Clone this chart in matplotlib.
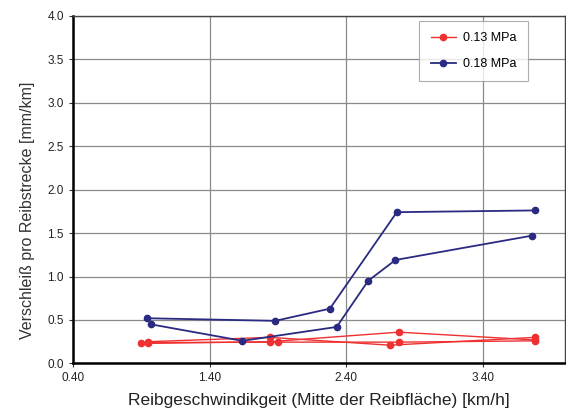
import matplotlib.pyplot as plt

plt.rcParams["font.family"] = ["Liberation Sans", "DejaVu Sans"]

# Blue series (0.18 MPa)
b1_x = [0.94, 1.88, 2.28, 2.77, 3.78]
b1_y = [0.52, 0.49, 0.63, 1.74, 1.76]
b2_x = [0.97, 1.64, 2.33, 2.56, 2.76, 3.76]
b2_y = [0.45, 0.26, 0.42, 0.95, 1.19, 1.47]

# Red series (0.13 MPa)
r1_x = [0.90, 1.84, 2.785, 3.78]
r1_y = [0.23, 0.25, 0.36, 0.27]
r2_x = [0.95, 1.84, 2.72, 3.78]
r2_y = [0.25, 0.30, 0.21, 0.30]
r3_x = [0.95, 1.90, 2.785, 3.78]
r3_y = [0.24, 0.245, 0.245, 0.26]

xticks = [0.40, 1.40, 2.40, 3.40]
yticks = [0.0, 0.5, 1.0, 1.5, 2.0, 2.5, 3.0, 3.5, 4.0]

red = "#ee3030"
blue = "#2a2a82"

fig = plt.figure(figsize=(5.66, 4.13), dpi=100)
ax = fig.add_axes([0.129, 0.12, 0.869, 0.842])

kw = dict(marker="o", markersize=4.5)
ax.plot(r1_x, r1_y, color=red, label="0.13 MPa", linewidth=1.0, **kw)
ax.plot(r2_x, r2_y, color=red, linewidth=1.0, **kw)
ax.plot(r3_x, r3_y, color=red, linewidth=1.0, **kw)
ax.plot(b1_x, b1_y, color=blue, label="0.18 MPa", linewidth=1.3, **kw)
ax.plot(b2_x, b2_y, color=blue, linewidth=1.3, **kw)

ax.set_xlim(0.40, 4.0)
ax.set_ylim(0.0, 4.0)
ax.set_xticks(xticks)
ax.set_xticklabels([f"{v:.2f}" for v in xticks])
ax.set_yticks(yticks)
ax.set_yticklabels([f"{v:.1f}" for v in yticks])
ax.tick_params(labelsize=8.5, length=3, color="#333333", labelcolor="#222222")
ax.grid(True, color="#8a8a8a", linewidth=0.9)
ax.set_axisbelow(True)
for side in ["left", "bottom"]:
    ax.spines[side].set_linewidth(1.8)
for side in ["top", "right"]:
    ax.spines[side].set_linewidth(1.0)
    ax.spines[side].set_color("#444444")

ax.set_xlabel("Reibgeschwindikgeit (Mitte der Reibfläche) [km/h]",
              fontsize=12.5, color="#222222", labelpad=6)
ax.set_ylabel("Verschleiß pro Reibstrecke [mm/km]", fontsize=11.5,
              color="#333333")
ax.yaxis.set_label_coords(-0.077, 0.44)

leg = ax.legend(loc="upper right", bbox_to_anchor=(0.925, 0.985), fontsize=9,
                frameon=True, fancybox=False, edgecolor="#999999",
                borderpad=0.9, labelspacing=1.1, handlelength=2.0,
                handletextpad=0.6, borderaxespad=0)
leg.get_frame().set_linewidth(0.8)

fig.savefig("out.png", dpi=100)
